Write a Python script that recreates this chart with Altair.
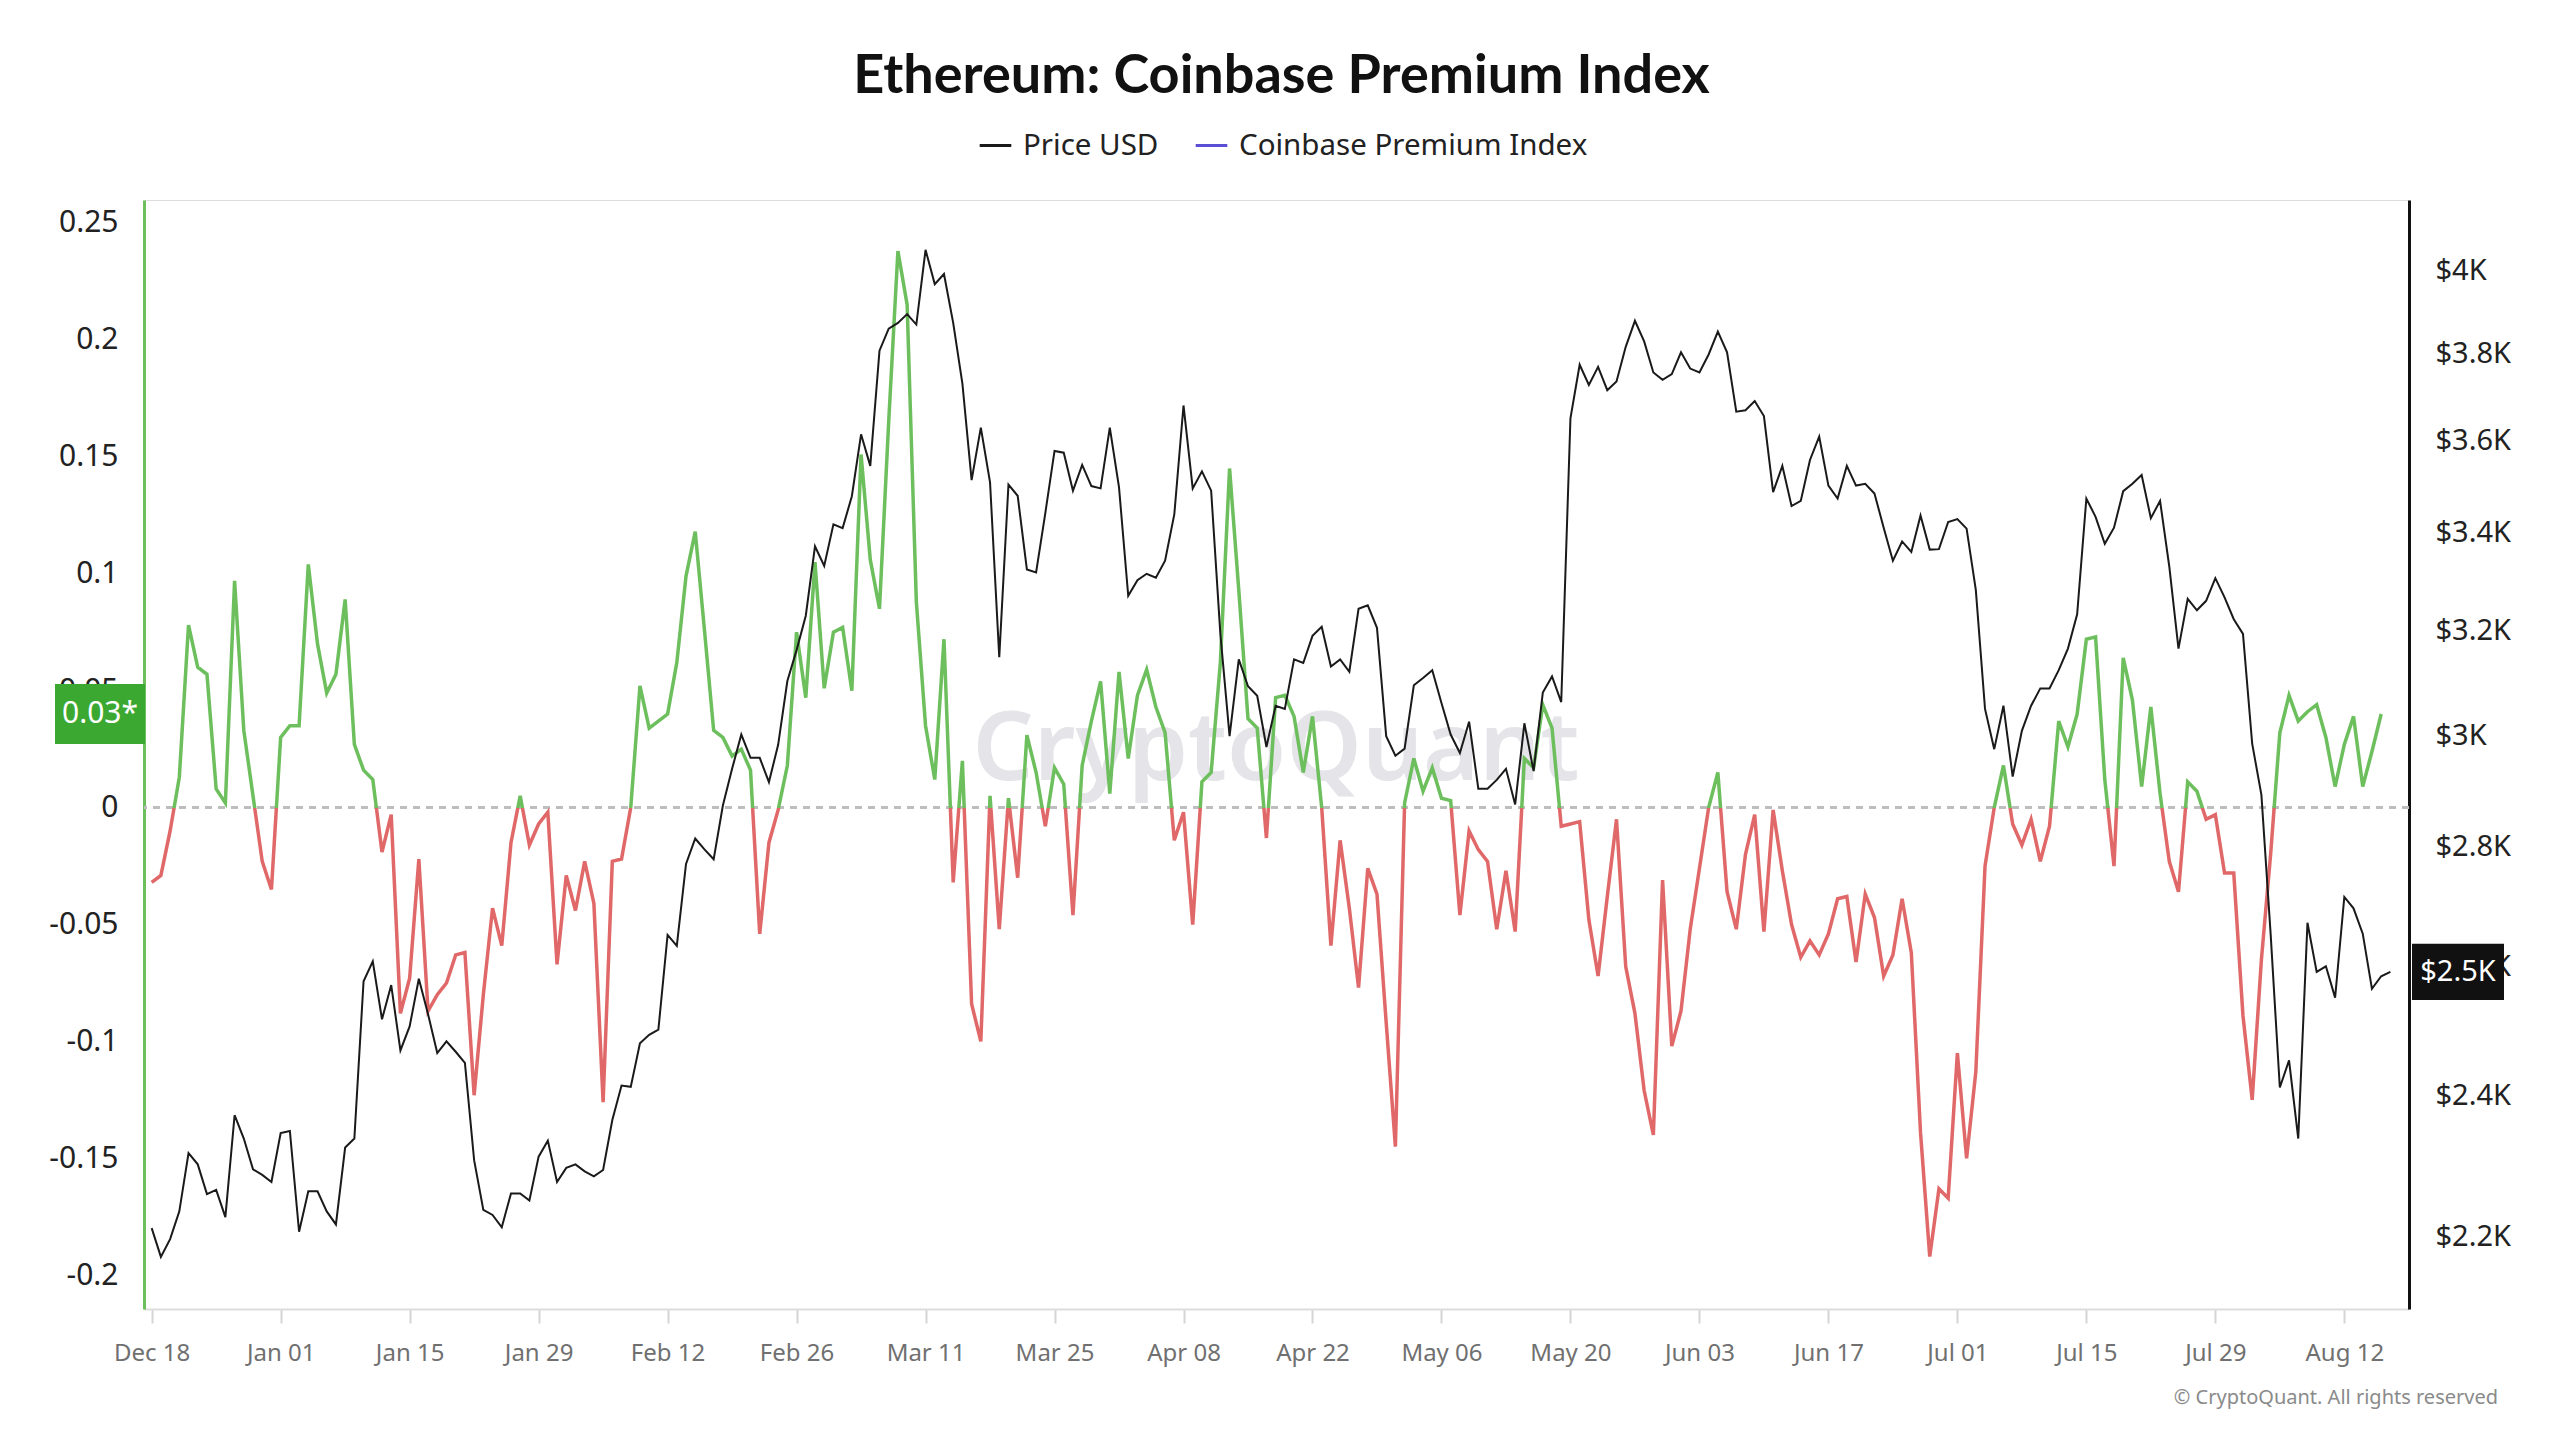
import altair as alt
import pandas as pd

# ---------------- data ----------------
start_date = "2023-12-18"

premium = [
    -0.032, -0.029, -0.010, 0.013, 0.078, 0.060, 0.057, 0.008, 0.002, 0.097,
    0.033, 0.005, -0.023, -0.035, 0.030, 0.035, 0.035, 0.104, 0.070, 0.049,
    0.057, 0.089, 0.027, 0.016, 0.012, -0.019, -0.003, -0.088, -0.073, -0.022,
    -0.087, -0.080, -0.075, -0.063, -0.062, -0.123, -0.080, -0.043, -0.059, -0.015,
    0.005, -0.016, -0.007, -0.002, -0.067, -0.029, -0.044, -0.023, -0.041, -0.126,
    -0.023, -0.022, 0.000, 0.052, 0.034, 0.037, 0.040, 0.062, 0.099, 0.118,
    0.076, 0.033, 0.030, 0.022, 0.025, 0.016, -0.054, -0.015, -0.001, 0.018,
    0.075, 0.047, 0.105, 0.051, 0.075, 0.077, 0.050, 0.151, 0.106, 0.085,
    0.165, 0.238, 0.215, 0.088, 0.035, 0.012, 0.072, -0.032, 0.020, -0.084,
    -0.100, 0.005, -0.052, 0.004, -0.030, 0.031, 0.015, -0.008, 0.017, 0.010,
    -0.046, 0.018, 0.037, 0.054, 0.006, 0.058, 0.021, 0.048, 0.059, 0.043,
    0.032, -0.014, -0.002, -0.050, 0.011, 0.015, 0.062, 0.145, 0.093, 0.038,
    0.034, -0.013, 0.047, 0.048, 0.039, 0.015, 0.039, 0.000, -0.059, -0.014,
    -0.043, -0.077, -0.026, -0.037, -0.092, -0.145, 0.002, 0.021, 0.007, 0.017,
    0.004, 0.003, -0.046, -0.010, -0.018, -0.023, -0.052, -0.027, -0.053, 0.021,
    0.017, 0.044, 0.034, -0.008, -0.007, -0.006, -0.048, -0.072, -0.038, -0.005,
    -0.068, -0.088, -0.121, -0.140, -0.031, -0.102, -0.087, -0.052, -0.026, 0.000,
    0.015, -0.036, -0.052, -0.020, -0.003, -0.053, -0.001, -0.027, -0.050, -0.064,
    -0.057, -0.063, -0.054, -0.039, -0.038, -0.066, -0.037, -0.047, -0.072, -0.063,
    -0.039, -0.062, -0.139, -0.192, -0.163, -0.167, -0.105, -0.150, -0.113, -0.025,
    0.000, 0.018, -0.007, -0.016, -0.005, -0.023, -0.008, 0.037, 0.026, 0.040,
    0.072, 0.073, 0.012, -0.025, 0.064, 0.046, 0.009, 0.043, 0.006, -0.023,
    -0.036, 0.011, 0.007, -0.005, -0.003, -0.028, -0.028, -0.089, -0.125, -0.065,
    -0.020, 0.032, 0.048, 0.037, 0.041, 0.044, 0.030, 0.009, 0.027, 0.039,
    0.009, 0.024, 0.040,
]

price = [
    2211, 2172, 2196, 2234, 2316, 2300, 2258, 2264, 2226, 2371,
    2337, 2293, 2285, 2275, 2345, 2348, 2206, 2262, 2262, 2234,
    2216, 2324, 2337, 2576, 2608, 2516, 2570, 2468, 2505, 2580,
    2524, 2464, 2482, 2466, 2449, 2306, 2236, 2229, 2212, 2259,
    2259, 2249, 2311, 2334, 2275, 2295, 2300, 2290, 2283, 2292,
    2364, 2415, 2413, 2479, 2492, 2500, 2651, 2633, 2770, 2814,
    2795, 2778, 2872, 2938, 3001, 2958, 2958, 2914, 2982, 3102,
    3162, 3230, 3372, 3331, 3418, 3410, 3478, 3614, 3544, 3806,
    3858, 3872, 3893, 3868, 4051, 3966, 3991, 3872, 3729, 3513,
    3629, 3508, 3148, 3503, 3479, 3324, 3318, 3442, 3577, 3573,
    3490, 3546, 3500, 3495, 3629, 3497, 3270, 3302, 3315, 3307,
    3342, 3439, 3679, 3495, 3532, 3490, 3194, 2998, 3144, 3092,
    3074, 2978, 3055, 3049, 3144, 3137, 3190, 3208, 3130, 3144,
    3120, 3244, 3251, 3206, 2998, 2962, 2975, 3094, 3108, 3123,
    3060, 3001, 2967, 3025, 2902, 2902, 2918, 2938, 2874, 3022,
    2934, 3080, 3111, 3062, 3650, 3773, 3726, 3768, 3714, 3734,
    3815, 3877, 3828, 3755, 3738, 3751, 3802, 3764, 3755, 3797,
    3851, 3802, 3665, 3668, 3689, 3655, 3487, 3544, 3457, 3468,
    3557, 3609, 3501, 3473, 3544, 3501, 3505, 3484, 3411, 3342,
    3382, 3360, 3437, 3365, 3366, 3423, 3429, 3409, 3282, 3049,
    2974, 3055, 2924, 3008, 3055, 3088, 3088, 3123, 3165, 3233,
    3473, 3434, 3377, 3411, 3489, 3505, 3524, 3431, 3468, 3330,
    3165, 3264, 3241, 3260, 3306, 3267, 3223, 3194, 2984, 2891,
    2653, 2412, 2453, 2337, 2671, 2591, 2600, 2550, 2714, 2695,
    2653, 2564, 2584, 2591,
]

x_tick_dates = [
    "2023-12-18", "2024-01-01", "2024-01-15", "2024-01-29", "2024-02-12",
    "2024-02-26", "2024-03-11", "2024-03-25", "2024-04-08", "2024-04-22",
    "2024-05-06", "2024-05-20", "2024-06-03", "2024-06-17", "2024-07-01",
    "2024-07-15", "2024-07-29", "2024-08-12",
]
left_ticks = [-0.2, -0.15, -0.1, -0.05, 0, 0.05, 0.1, 0.15, 0.2, 0.25]
right_ticks = [2200, 2400, 2600, 2800, 3000, 3200, 3400, 3600, 3800, 4000]
series_names = ["Price USD", "Coinbase Premium Index"]
title_text = "Ethereum: Coinbase Premium Index"
left_badge_text = "0.03*"
right_badge_text = "$2.5K"
watermark_text = "CryptoQuant"
footer_text = "\u00a9 CryptoQuant. All rights reserved"

# ---------------- styling ----------------
GREEN = "#6cbf5c"
RED = "#e06868"
BADGE_GREEN = "#3ba832"
FONT = "Noto Sans"
W, H = 2265, 1109

prem_df = pd.DataFrame({
    "date": pd.date_range(start_date, periods=len(premium), freq="D"),
    "premium": premium,
})
price_df = pd.DataFrame({
    "date": pd.date_range(start_date, periods=len(price), freq="D"),
    "price": price,
    "series": series_names[0],
})
last_prem = pd.DataFrame({"premium": [premium[-1]], "t": [left_badge_text]})
last_price = pd.DataFrame({"price": [price[-1]], "t": [right_badge_text]})
one_row = pd.DataFrame({"wm": [watermark_text], "ft": [footer_text]})


def to_dt(s):
    y, m, d = (int(v) for v in s.split("-"))
    return alt.DateTime(year=y, month=m, date=d)


x_scale = alt.Scale(domain=[alt.DateTime(year=2023, month=12, date=17, hours=4),
                            alt.DateTime(year=2024, month=8, date=19, minutes=30)])
x_axis = alt.Axis(values=[to_dt(s) for s in x_tick_dates], format="%b %d",
                  labelFont=FONT, labelFontSize=24, labelColor="#707070",
                  tickColor="#d4d4d4", tickSize=14, tickWidth=2,
                  domainColor="#dddddd", domainWidth=2, grid=False,
                  labelPadding=18, title=None)

left_scale = alt.Scale(domain=[-0.2144, 0.2598], nice=False, zero=False)
left_axis = alt.Axis(values=left_ticks, labelExpr="toString(datum.value)",
                     orient="left", domainColor=GREEN, domainWidth=3, ticks=False,
                     labelFont=FONT, labelFontSize=30, labelColor="#222222",
                     labelPadding=26, gridColor="#efefef", gridWidth=1.5, title=None)

right_scale = alt.Scale(type="log", domain=[2103, 4178], nice=False)
right_axis = alt.Axis(values=right_ticks, labelExpr="'$' + (datum.value/1000) + 'K'",
                      orient="right", domainColor="#111111", domainWidth=3, ticks=False,
                      grid=False, labelFont=FONT, labelFontSize=29, labelColor="#222222",
                      labelPadding=26, title=None)

pmax, pmin = max(premium), min(premium)
f = pmax / (pmax - pmin)
grad = alt.Gradient(
    gradient="linear",
    stops=[alt.GradientStop(color=GREEN, offset=0), alt.GradientStop(color=GREEN, offset=f),
           alt.GradientStop(color=RED, offset=f), alt.GradientStop(color=RED, offset=1)],
    x1=0, x2=0, y1=0, y2=1,
)

watermark = alt.Chart(one_row).mark_text(
    font=FONT, fontSize=96, fontWeight=600, color="#e4e4e9", align="center",
    baseline="alphabetic").encode(x=alt.value(1132), y=alt.value(580), text="wm:N")

footer = alt.Chart(one_row).mark_text(
    font=FONT, fontSize=20, color="#8a8a8a", align="right", baseline="middle"
).encode(x=alt.value(2354), y=alt.value(1198), text="ft:N")

zero_rule = alt.Chart(prem_df).mark_rule(
    color="#bdbdbd", strokeDash=[7, 6], strokeWidth=2
).encode(y=alt.datum(0, type="quantitative", scale=left_scale))

prem_line = alt.Chart(prem_df).mark_line(stroke=grad, strokeWidth=3.5).encode(
    x=alt.X("date:T", scale=x_scale, axis=x_axis),
    y=alt.Y("premium:Q", scale=left_scale, axis=left_axis),
)

lbadge = alt.Chart(last_prem).mark_point(
    shape="M-1,-0.667L1,-0.667L1,0.667L-1,0.667Z", size=8100, filled=True,
    color=BADGE_GREEN, opacity=1, strokeWidth=0
).encode(x=alt.value(-44), y=alt.Y("premium:Q", scale=left_scale))
lbadge_text = alt.Chart(last_prem).mark_text(
    font=FONT, fontSize=30, color="white", align="center", baseline="middle"
).encode(x=alt.value(-44), y=alt.Y("premium:Q", scale=left_scale), text="t:N")

price_line = alt.Chart(price_df).mark_line(strokeWidth=2).encode(
    x=alt.X("date:T", scale=x_scale, axis=x_axis),
    y=alt.Y("price:Q", scale=right_scale, axis=right_axis),
    color=alt.Color("series:N",
                    scale=alt.Scale(domain=series_names, range=["#1a1a1a", "#5a4fd4"]),
                    legend=alt.Legend(title=None, orient="none", legendX=834, legendY=-72,
                                      direction="horizontal", labelFont=FONT,
                                      labelFontSize=29.5, labelColor="#222222", labelLimit=0,
                                      symbolType="stroke", symbolStrokeWidth=3,
                                      symbolSize=1000, labelOffset=10, columnPadding=30)),
)
rbadge = alt.Chart(last_price).mark_point(
    shape="M-1,-0.609L1,-0.609L1,0.609L-1,0.609Z", size=8464, filled=True,
    color="#111111", opacity=1, strokeWidth=0
).encode(x=alt.value(2314), y=alt.Y("price:Q", scale=right_scale))
rbadge_text = alt.Chart(last_price).mark_text(
    font=FONT, fontSize=29, color="white", align="center", baseline="middle"
).encode(x=alt.value(2314), y=alt.Y("price:Q", scale=right_scale), text="t:N")

left_group = alt.layer(watermark, zero_rule, prem_line, lbadge, lbadge_text, footer)
right_group = alt.layer(price_line, rbadge, rbadge_text)

chart = alt.layer(left_group, right_group).resolve_scale(
    y="independent", color="independent"
).properties(
    width=W, height=H,
    title=alt.TitleParams(title_text, font="Lato", fontSize=54, fontWeight="bold",
                          color="#111111", anchor="middle", offset=24, dx=5),
    autosize=alt.AutoSizeParams(type="none"),
    padding={"left": 136, "top": 192, "right": 135, "bottom": 120},
).configure_view(strokeWidth=0).configure(background="white")

chart.save("out.html", embed_options={"renderer": "svg", "actions": False})
